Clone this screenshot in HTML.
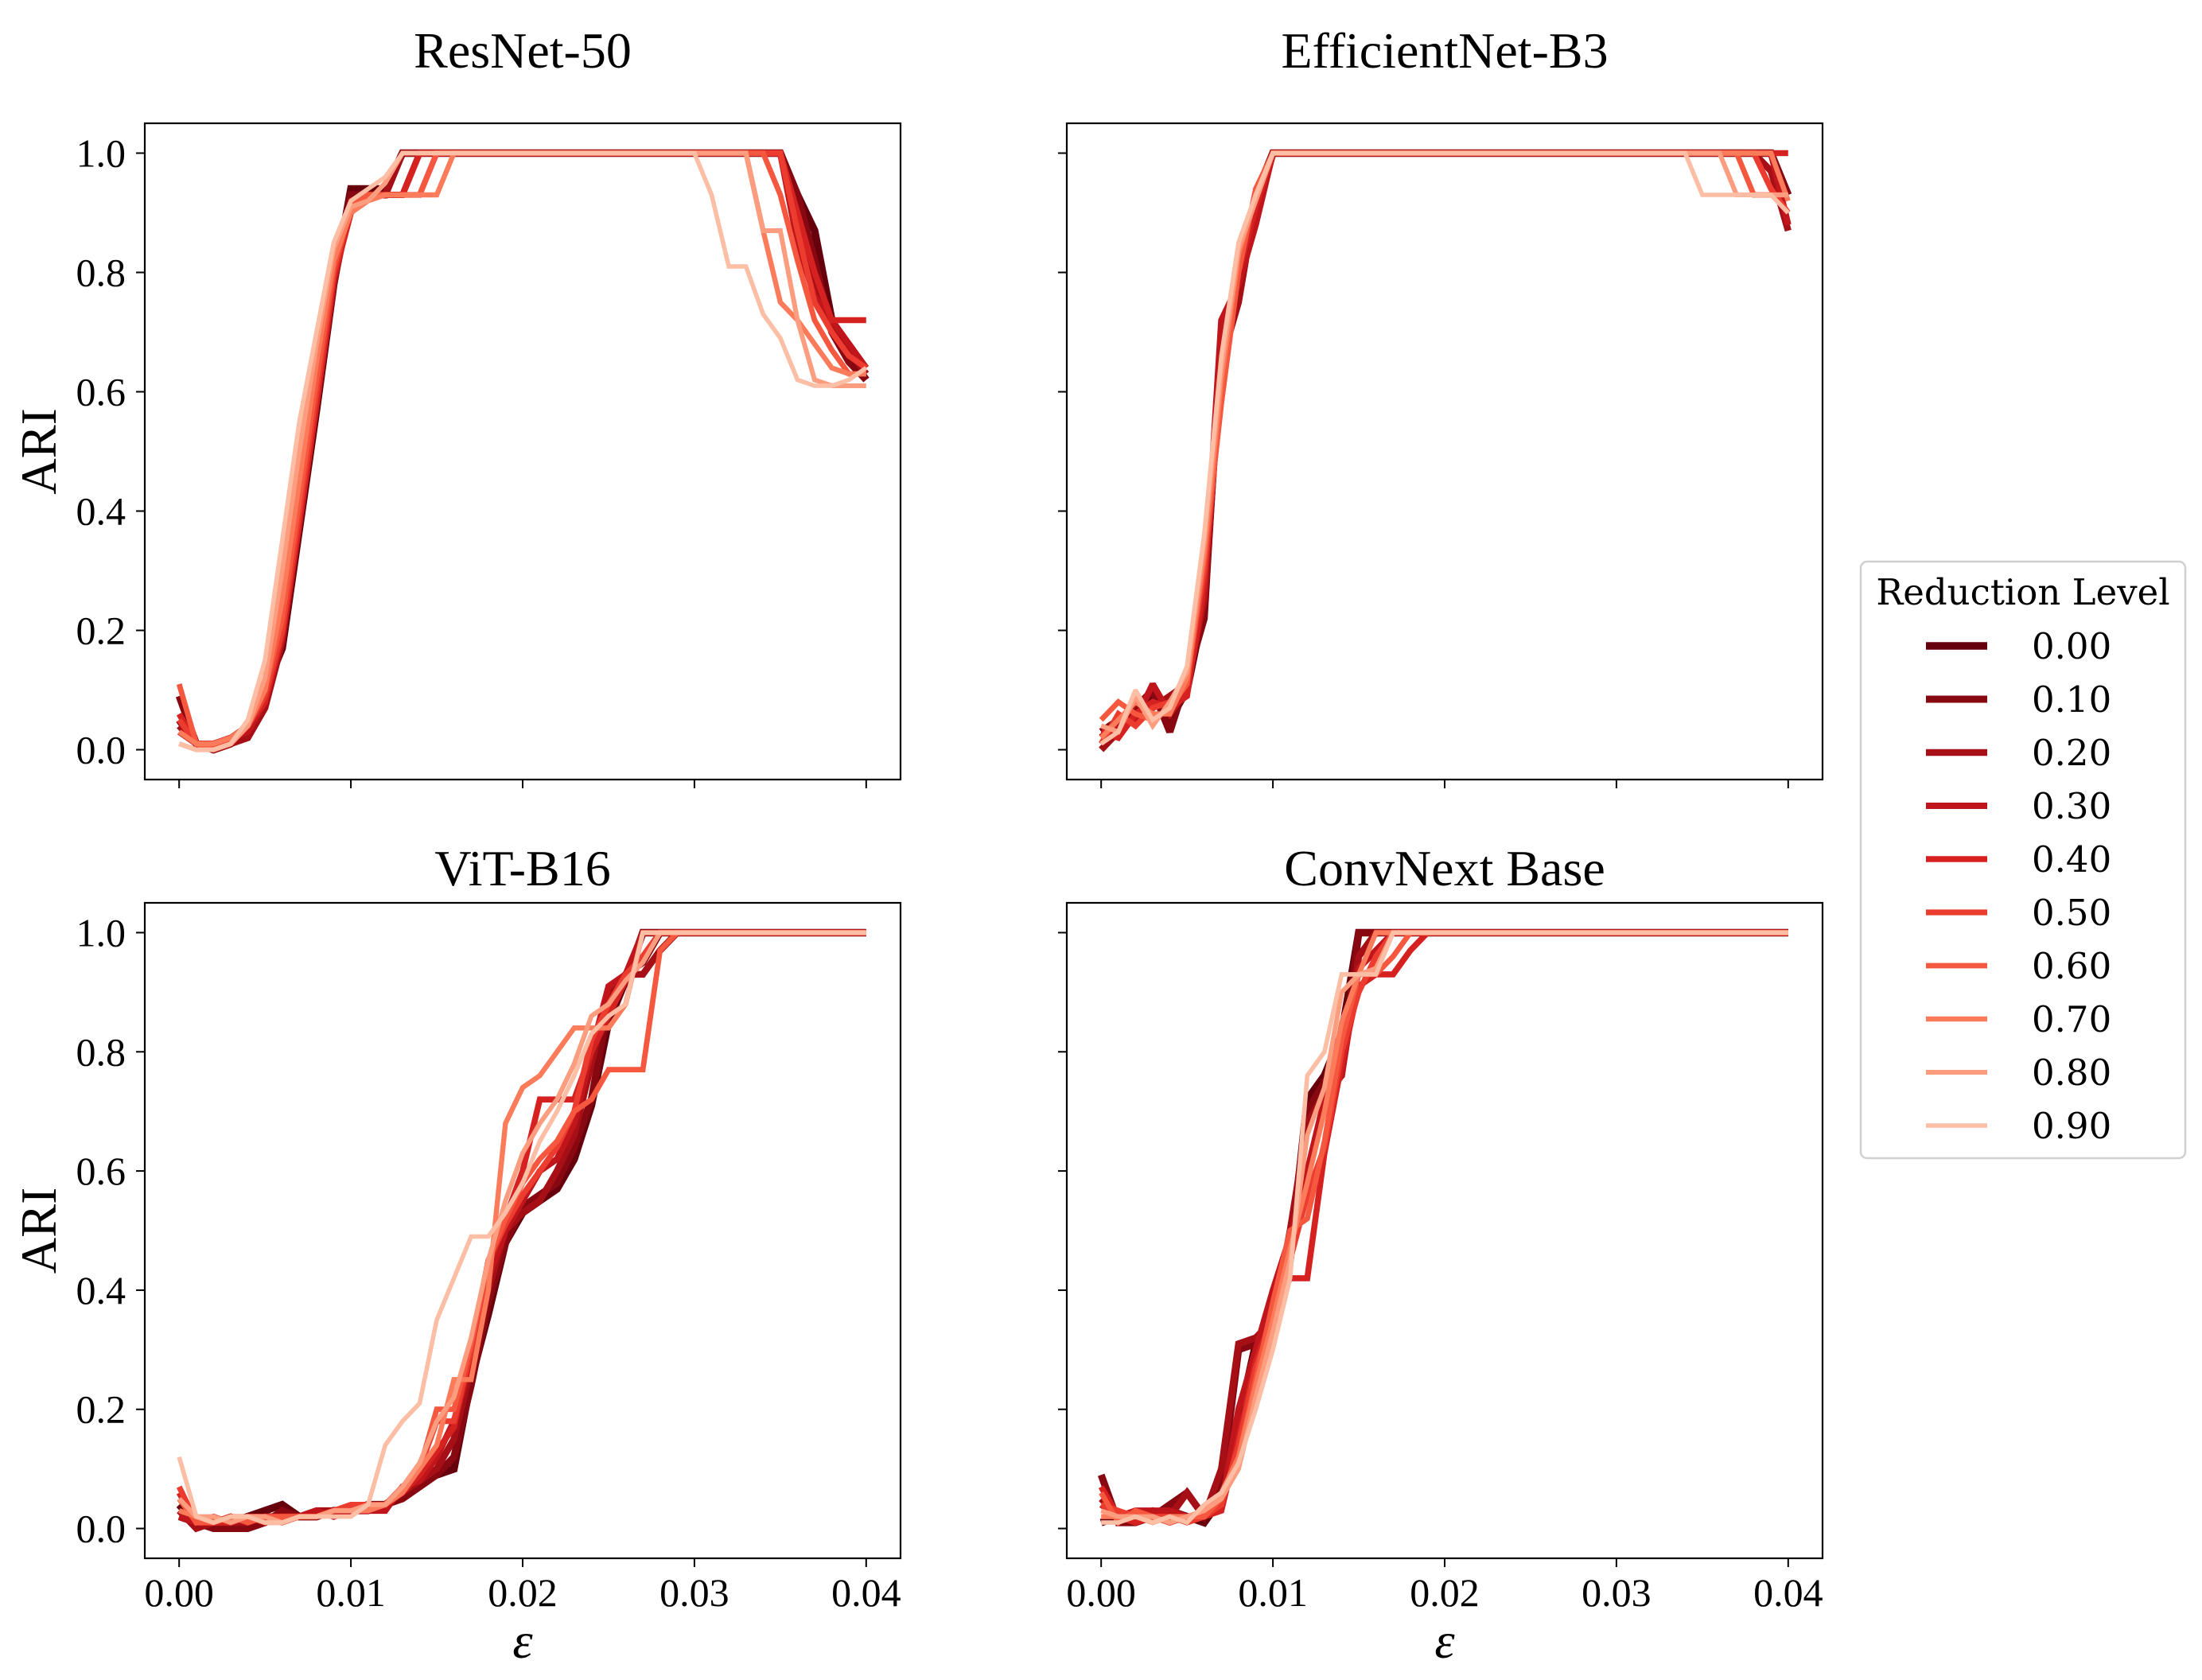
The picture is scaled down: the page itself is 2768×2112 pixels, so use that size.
<!DOCTYPE html>
<html><head><meta charset="utf-8"><style>
html,body{margin:0;padding:0;background:#fff;}
svg{display:block;}
text{font-family:"Liberation Serif","DejaVu Serif",serif;fill:#000;}
</style></head>
<body>
<svg id="fig" xmlns="http://www.w3.org/2000/svg" width="2768" height="2112" viewBox="0 0 2768 2112"></svg>
<script>
const xTicks = [0, 0.01, 0.02, 0.03, 0.04];
const xTickLabels = ["0.00", "0.01", "0.02", "0.03", "0.04"];
const yTicks = [0, 0.2, 0.4, 0.6, 0.8, 1.0];
const yTickLabels = ["0.0", "0.2", "0.4", "0.6", "0.8", "1.0"];
const epsValues = [0,0.001,0.002,0.003,0.004,0.005,0.006,0.007,0.008,0.009,0.010,0.011,0.012,0.013,0.014,0.015,0.016,0.017,0.018,0.019,0.020,0.021,0.022,0.023,0.024,0.025,0.026,0.027,0.028,0.029,0.030,0.031,0.032,0.033,0.034,0.035,0.036,0.037,0.038,0.039,0.040];
const reductionLevels = ["0.00","0.10","0.20","0.30","0.40","0.50","0.60","0.70","0.80","0.90"];
const panelTitles = ["ResNet-50","EfficientNet-B3","ViT-B16","ConvNext Base"];

const resnet = [
[.05,.01,0,.01,.03,.10,.17,.37,.57,.78,.94,.94,.94,1,1,1,1,1,1,1,1,1,1,1,1,1,1,1,1,1,1,1,1,1,1,1,.93,.87,.72,.66,.62],
[.09,.01,0,.01,.03,.08,.19,.40,.60,.80,.93,.93,.93,1,1,1,1,1,1,1,1,1,1,1,1,1,1,1,1,1,1,1,1,1,1,1,.93,.82,.70,.65,.62],
[.04,.01,0,.01,.02,.07,.18,.38,.58,.78,.92,.93,.93,1,1,1,1,1,1,1,1,1,1,1,1,1,1,1,1,1,1,1,1,1,1,1,.88,.78,.72,.67,.63],
[.03,.01,.01,.02,.03,.08,.20,.39,.58,.79,.91,.93,.93,.93,1,1,1,1,1,1,1,1,1,1,1,1,1,1,1,1,1,1,1,1,1,1,.85,.76,.72,.68,.64],
[.06,.01,.01,.02,.04,.08,.19,.38,.58,.79,.90,.93,.93,.93,1,1,1,1,1,1,1,1,1,1,1,1,1,1,1,1,1,1,1,1,1,1,.90,.80,.72,.72,.72],
[.05,.01,.01,.02,.04,.09,.20,.40,.60,.80,.91,.93,.93,.93,.93,1,1,1,1,1,1,1,1,1,1,1,1,1,1,1,1,1,1,1,1,1,.87,.75,.70,.66,.64],
[.11,.01,0,.01,.04,.10,.22,.42,.62,.81,.91,.93,.93,.93,.93,1,1,1,1,1,1,1,1,1,1,1,1,1,1,1,1,1,1,1,1,.93,.82,.72,.67,.63,.63],
[.03,.01,.01,.02,.04,.10,.25,.45,.65,.82,.90,.92,.93,.93,.93,.93,1,1,1,1,1,1,1,1,1,1,1,1,1,1,1,1,1,1,.87,.75,.72,.68,.64,.63,.63],
[.01,0,0,.01,.04,.12,.30,.50,.68,.84,.91,.92,.95,1,1,1,1,1,1,1,1,1,1,1,1,1,1,1,1,1,1,1,1,1,.87,.87,.72,.62,.61,.61,.61],
[.01,0,0,.01,.05,.15,.35,.55,.70,.85,.92,.94,.96,1,1,1,1,1,1,1,1,1,1,1,1,1,1,1,1,1,1,.93,.81,.81,.73,.69,.62,.61,.61,.62,.64]
];
const effnet = [
[.02,.04,.06,.09,.05,.10,.24,.68,.80,.93,1,1,1,1,1,1,1,1,1,1,1,1,1,1,1,1,1,1,1,1,1,1,1,1,1,1,1,1,1,1,.93],
[.03,.05,.07,.10,.03,.12,.22,.70,.78,.90,1,1,1,1,1,1,1,1,1,1,1,1,1,1,1,1,1,1,1,1,1,1,1,1,1,1,1,1,1,1,.93],
[0,.03,.08,.07,.09,.11,.25,.65,.75,.92,1,1,1,1,1,1,1,1,1,1,1,1,1,1,1,1,1,1,1,1,1,1,1,1,1,1,1,1,1,.97,.87],
[.02,.04,.05,.11,.06,.10,.26,.72,.78,.88,1,1,1,1,1,1,1,1,1,1,1,1,1,1,1,1,1,1,1,1,1,1,1,1,1,1,1,1,1,1,.88],
[.03,.02,.06,.08,.07,.09,.28,.62,.80,.91,1,1,1,1,1,1,1,1,1,1,1,1,1,1,1,1,1,1,1,1,1,1,1,1,1,1,1,1,1,1,1],
[.01,.06,.04,.07,.08,.12,.30,.60,.82,.93,1,1,1,1,1,1,1,1,1,1,1,1,1,1,1,1,1,1,1,1,1,1,1,1,1,1,1,1,1,.94,.90],
[.05,.08,.06,.05,.07,.11,.32,.58,.80,.94,1,1,1,1,1,1,1,1,1,1,1,1,1,1,1,1,1,1,1,1,1,1,1,1,1,1,1,1,.93,.93,.93],
[.02,.05,.08,.06,.06,.12,.33,.62,.83,.93,1,1,1,1,1,1,1,1,1,1,1,1,1,1,1,1,1,1,1,1,1,1,1,1,1,1,1,1,1,1,.92],
[.04,.03,.09,.04,.08,.13,.35,.64,.84,.92,1,1,1,1,1,1,1,1,1,1,1,1,1,1,1,1,1,1,1,1,1,1,1,1,1,1,1,.93,.93,.93,.93],
[.01,.03,.10,.05,.07,.14,.36,.66,.85,.93,1,1,1,1,1,1,1,1,1,1,1,1,1,1,1,1,1,1,1,1,1,1,1,1,1,.93,.93,.93,.93,.93,.90]
];
const vit = [
[.04,.01,.01,.01,.02,.03,.04,.02,.02,.03,.03,.04,.04,.06,.08,.09,.10,.25,.36,.48,.53,.55,.57,.62,.71,.85,.92,1,1,1,1,1,1,1,1,1,1,1,1,1,1],
[.02,.01,0,0,0,.01,.03,.02,.02,.03,.03,.03,.04,.05,.07,.09,.12,.24,.38,.48,.54,.56,.58,.64,.72,.88,.93,.95,1,1,1,1,1,1,1,1,1,1,1,1,1],
[.03,0,.01,.01,.01,.02,.02,.02,.03,.03,.03,.03,.04,.06,.08,.10,.15,.27,.40,.50,.53,.55,.60,.66,.78,.90,.93,.93,.97,1,1,1,1,1,1,1,1,1,1,1,1],
[.02,.01,.01,.02,.01,.02,.02,.02,.03,.02,.03,.03,.03,.07,.08,.12,.18,.28,.42,.50,.55,.60,.62,.68,.80,.91,.93,1,1,1,1,1,1,1,1,1,1,1,1,1,1],
[.06,.01,.01,.01,.02,.01,.02,.02,.02,.03,.03,.04,.04,.06,.09,.13,.17,.30,.44,.52,.60,.72,.72,.72,.80,.86,.92,.96,1,1,1,1,1,1,1,1,1,1,1,1,1],
[.07,.01,.02,.01,.02,.02,.01,.02,.02,.03,.04,.04,.04,.07,.10,.18,.18,.30,.45,.51,.56,.60,.64,.70,.82,.88,.93,.96,1,1,1,1,1,1,1,1,1,1,1,1,1],
[.05,.01,.01,.02,.01,.02,.02,.02,.02,.03,.03,.03,.04,.07,.10,.20,.20,.31,.45,.52,.58,.62,.65,.70,.72,.77,.77,.77,.97,1,1,1,1,1,1,1,1,1,1,1,1],
[.03,.02,.01,.02,.02,.01,.01,.02,.02,.03,.03,.03,.04,.06,.10,.14,.25,.25,.40,.68,.74,.76,.80,.84,.84,.84,.88,1,1,1,1,1,1,1,1,1,1,1,1,1,1],
[.05,.02,.02,.01,.02,.02,.01,.02,.02,.03,.03,.04,.04,.07,.11,.18,.22,.32,.45,.55,.63,.68,.72,.78,.86,.88,.92,.95,1,1,1,1,1,1,1,1,1,1,1,1,1],
[.12,.02,.01,.02,.02,.01,.01,.02,.02,.02,.02,.04,.14,.18,.21,.35,.42,.49,.49,.53,.58,.65,.70,.76,.83,.86,.88,1,1,1,1,1,1,1,1,1,1,1,1,1,1]
];
const convnext = [
[.01,.02,.02,.02,.03,.02,.01,.05,.18,.31,.35,.45,.72,.76,.83,1,1,1,1,1,1,1,1,1,1,1,1,1,1,1,1,1,1,1,1,1,1,1,1,1,1],
[.09,.01,.01,.02,.04,.06,.02,.07,.30,.31,.34,.48,.70,.75,.77,1,1,1,1,1,1,1,1,1,1,1,1,1,1,1,1,1,1,1,1,1,1,1,1,1,1],
[.05,.02,.02,.03,.02,.06,.02,.10,.31,.32,.35,.50,.68,.73,.76,.96,1,1,1,1,1,1,1,1,1,1,1,1,1,1,1,1,1,1,1,1,1,1,1,1,1],
[.04,.02,.03,.03,.03,.02,.02,.04,.20,.30,.40,.49,.60,.72,.76,.94,.97,1,1,1,1,1,1,1,1,1,1,1,1,1,1,1,1,1,1,1,1,1,1,1,1],
[.07,.02,.01,.02,.01,.02,.02,.03,.15,.28,.36,.42,.42,.63,.78,.91,.93,.93,.97,1,1,1,1,1,1,1,1,1,1,1,1,1,1,1,1,1,1,1,1,1,1],
[.04,.03,.02,.02,.02,.01,.02,.04,.14,.27,.35,.45,.56,.64,.80,.90,.96,1,1,1,1,1,1,1,1,1,1,1,1,1,1,1,1,1,1,1,1,1,1,1,1],
[.06,.01,.03,.02,.01,.02,.02,.05,.12,.25,.38,.50,.52,.65,.82,.93,.93,.96,1,1,1,1,1,1,1,1,1,1,1,1,1,1,1,1,1,1,1,1,1,1,1],
[.02,.02,.02,.01,.02,.02,.03,.06,.12,.24,.35,.47,.58,.70,.85,.93,1,1,1,1,1,1,1,1,1,1,1,1,1,1,1,1,1,1,1,1,1,1,1,1,1],
[.03,.02,.02,.02,.01,.02,.03,.05,.10,.22,.33,.45,.66,.74,.90,.93,.94,1,1,1,1,1,1,1,1,1,1,1,1,1,1,1,1,1,1,1,1,1,1,1,1],
[.01,.01,.02,.01,.02,.01,.04,.06,.11,.20,.30,.42,.76,.80,.93,.93,.93,1,1,1,1,1,1,1,1,1,1,1,1,1,1,1,1,1,1,1,1,1,1,1,1]
];

const colors = ["#67000d","#870811","#a50f15","#bf151b","#d52221","#eb3c2f","#f6573f","#fb7b5b","#fc9d80","#fcbea5"];
const widths = [9.5,9,8.5,8,7.6,7.2,6.8,6.4,6,5.6];
const NS = "http://www.w3.org/2000/svg";
const svg = document.getElementById("fig");
function mk(tag, attrs, parent){
  const e = document.createElementNS(NS, tag);
  for (const k in attrs) e.setAttribute(k, attrs[k]);
  (parent||svg).appendChild(e);
  return e;
}
const panels = [
  {data: resnet, L:182, R:1132, T:155, B:980, xl:false, yl:true, name:"resnet-50", ty:85},
  {data: effnet, L:1341, R:2291, T:155, B:980, xl:false, yl:false, name:"efficientnet-b3", ty:85},
  {data: vit, L:182, R:1132, T:1135, B:1959, xl:true, yl:true, name:"vit-b16", ty:1113},
  {data: convnext, L:1341, R:2291, T:1135, B:1959, xl:true, yl:false, name:"convnext-base", ty:1113}
];
const XMIN=-0.002, XMAX=0.042, YMIN=-0.05, YMAX=1.05;
panels.forEach((p, pi) => {
  const g = mk("g", {});
  
  
  const xs = v => p.L + (v - XMIN) / (XMAX - XMIN) * (p.R - p.L);
  const ys = v => p.B - (v - YMIN) / (YMAX - YMIN) * (p.B - p.T);
  const cx = (p.L + p.R) / 2;
  const t = mk("text", {x: cx, y: p.ty, "text-anchor":"middle", "font-size":64}, g);
  t.textContent = panelTitles[pi];
  
  
  p.data.forEach((vals, si) => {
    let d = "";
    vals.forEach((v, i) => { d += (i ? "L" : "M") + xs(epsValues[i]).toFixed(1) + "," + ys(v).toFixed(1); });
    const path = mk("path", {d: d, fill:"none", stroke: colors[si], "stroke-width": widths[si], "stroke-linejoin":"miter", "stroke-miterlimit":"2"}, g);
    
    
  });
  const fr = mk("rect", {x:p.L, y:p.T, width:p.R-p.L, height:p.B-p.T, fill:"none", stroke:"#000", "stroke-width":2.2}, g);
  
  
  xTicks.forEach((v, i) => {
    const x = xs(v);
    const tk = mk("line", {x1:x, x2:x, y1:p.B, y2:p.B+11, stroke:"#000", "stroke-width":2}, g);
    
    
    if (p.xl) {
      const tl = mk("text", {x:x, y:p.B+60, "text-anchor":"middle", "font-size":50}, g);
      tl.textContent = xTickLabels[i];
      
      
    }
  });
  yTicks.forEach((v, i) => {
    const y = ys(v);
    const tk = mk("line", {x1:p.L-11, x2:p.L, y1:y, y2:y, stroke:"#000", "stroke-width":2}, g);
    
    
    if (p.yl) {
      const tl = mk("text", {x:p.L-24, y:y+17, "text-anchor":"end", "font-size":50}, g);
      tl.textContent = yTickLabels[i];
      
      
    }
  });
  if (p.yl) {
    const cy = (p.T + p.B) / 2;
    const yl = mk("text", {x:0, y:0, "text-anchor":"middle", "font-size":63, transform:"translate(70," + cy + ") rotate(-90)"}, g);
    yl.textContent = "ARI";
    
    
  }
  if (p.xl) {
    const xl = mk("text", {x:cx, y:p.B+125, "text-anchor":"middle", "font-size":64, "font-style":"italic"}, g);
    xl.textContent = "ε";
    
    
  }
});
const lg = mk("g", {});


const box = mk("rect", {x:2339, y:706, width:408, height:750, rx:8, fill:"#fff", stroke:"#d0d0d0", "stroke-width":2.5}, lg);


const lt = mk("text", {x:2543, y:760, "text-anchor":"middle", "font-size":45, style:"font-family:'DejaVu Serif',serif"}, lg);
lt.textContent = "Reduction Level";


reductionLevels.forEach((lab, i) => {
  const y = 812 + i * 67;
  const ln = mk("line", {x1:2421, x2:2498, y1:y, y2:y, stroke:colors[i], "stroke-width":widths[i]}, lg);
  
  
  const tx = mk("text", {x:2554, y:y+16, "font-size":45, style:"font-family:'DejaVu Serif',serif"}, lg);
  tx.textContent = lab;
  
  
});
</script>
</body></html>
